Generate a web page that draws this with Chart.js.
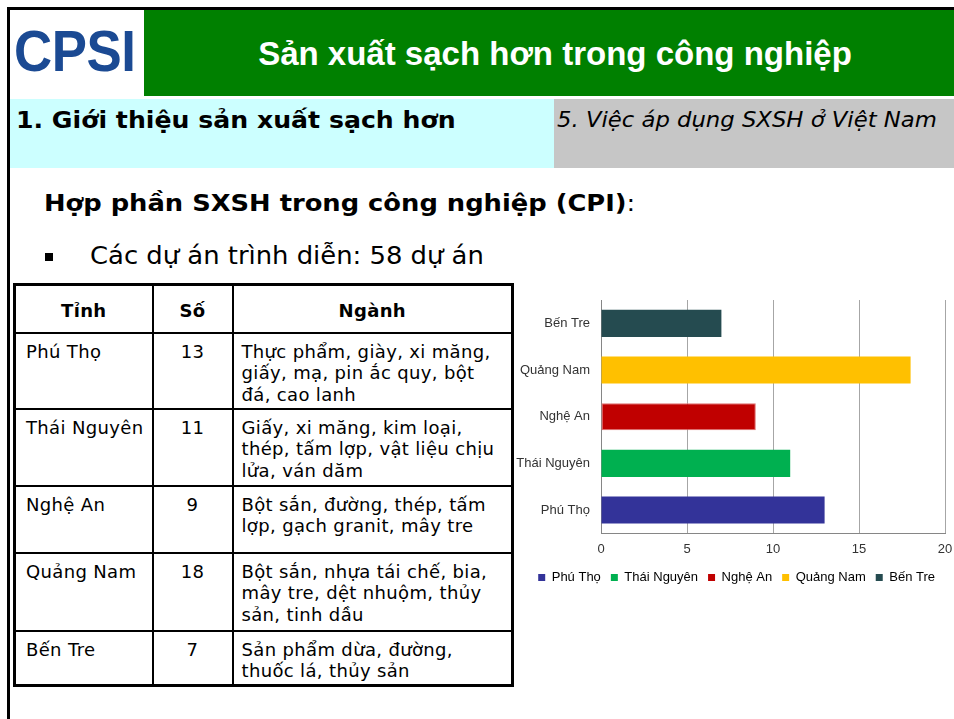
<!DOCTYPE html>
<html lang="vi">
<head>
<meta charset="utf-8">
<script src="https://cdn.jsdelivr.net/npm/chart.js@4/dist/chart.umd.min.js"></script>
<style>
  html,body{margin:0;padding:0;background:#fff;}
  body{width:954px;height:719px;position:relative;overflow:hidden;font-family:"DejaVu Sans",Verdana,sans-serif;}
  .abs{position:absolute;}
  #topline{left:7px;top:7px;width:947px;height:3px;background:#000;}
  #leftline{left:7px;top:7px;width:3px;height:712px;background:#000;}
  #logo{left:10px;top:10px;width:134px;height:86px;background:#fff;}
  #logotext{left:14px;top:22px;font-family:"Liberation Sans",Arial,sans-serif;font-weight:bold;font-size:58px;line-height:1;color:#1B4A93;transform:scaleX(0.91);transform-origin:0 0;letter-spacing:-0.5px;}
  #green{left:144px;top:10px;width:810px;height:86px;background:#008000;}
  #title{left:144px;width:810px;top:37px;text-align:center;color:#fff;font-family:"Liberation Sans",Arial,sans-serif;font-weight:bold;font-size:33px;line-height:1;padding-left:12px;box-sizing:border-box;}
  #cyan{left:10px;top:99px;width:544px;height:69px;background:#CCFFFF;}
  #gray{left:554px;top:99px;width:400px;height:69px;background:#C6C6C6;}
  .sx{transform-origin:0 0;white-space:nowrap;}
  #sec1{left:16px;top:109px;font-weight:bold;font-size:23px;line-height:1;color:#000;transform:scaleX(1.095);}
  #sec5{left:557px;top:109px;font-style:italic;font-size:22px;line-height:1;color:#000;transform:scaleX(1.033);}
  #heading{left:44px;top:192px;font-weight:bold;font-size:23px;line-height:1;color:#000;transform:scaleX(1.12);}
  #heading span{font-weight:normal;}
  #bullet{left:45px;top:253px;width:8px;height:8px;background:#000;}
  #bullettext{left:90px;top:244px;font-size:24px;line-height:1;color:#000;transform:scaleX(1.077);}
  #tbl{left:13px;top:283px;border-collapse:collapse;border:3px solid #000;table-layout:fixed;}
  #tbl td,#tbl th{border:2px solid #000;font-size:18px;line-height:21.6px;color:#000;padding:0;vertical-align:top;white-space:nowrap;letter-spacing:0.35px;}
  #tbl th{font-weight:bold;text-align:center;vertical-align:middle;padding-top:4px;}
  #tbl td.c1{padding:7px 0 0 10px;}
  #tbl td.c2{padding:7px 0 0 0;text-align:center;}
  #tbl td.c3{padding:7px 0 0 8px;}
  #chartwrap{left:510px;top:290px;width:444px;height:304px;}
</style>
</head>
<body>
<div class="abs" id="topline"></div>
<div class="abs" id="leftline"></div>
<div class="abs" id="logo"></div>
<div class="abs" id="logotext">CPSI</div>
<div class="abs" id="green"></div>
<div class="abs" id="title">Sản xuất sạch hơn trong công nghiệp</div>
<div class="abs" id="cyan"></div>
<div class="abs" id="gray"></div>
<div class="abs sx" id="sec1">1. Giới thiệu sản xuất sạch hơn</div>
<div class="abs sx" id="sec5">5. Việc áp dụng SXSH ở Việt Nam</div>
<div class="abs sx" id="heading">Hợp phần SXSH trong công nghiệp (CPI)<span>:</span></div>
<div class="abs" id="bullet"></div>
<div class="abs sx" id="bullettext">Các dự án trình diễn: 58 dự án</div>
<table class="abs" id="tbl"></table>
<div class="abs" id="chartwrap"><canvas id="c" width="444" height="304"></canvas></div>
<script>
// ---- data ----
const provinces = ['Phú Thọ', 'Thái Nguyên', 'Nghệ An', 'Quảng Nam', 'Bến Tre'];
const projectCounts = [13, 11, 9, 18, 7];
const barColors = ['#333399', '#00B050', '#C00000', '#FFC000', '#254B50'];
const xTickValues = [0, 5, 10, 15, 20];
const tableHeaders = ['Tỉnh', 'Số', 'Ngành'];
const sectorLines = [
  ['Thực phẩm, giày, xi măng,', 'giấy, mạ, pin ắc quy, bột', 'đá, cao lanh'],
  ['Giấy, xi măng, kim loại,', 'thép, tấm lợp, vật liệu chịu', 'lửa, ván dăm'],
  ['Bột sắn, đường, thép, tấm', 'lợp, gạch granit, mây tre'],
  ['Bột sắn, nhựa tái chế, bia,', 'mây tre, dệt nhuộm, thủy', 'sản, tinh dầu'],
  ['Sản phẩm dừa, đường,', 'thuốc lá, thủy sản']
];

// ---- table ----
const colWidths = [138, 80, 280];
const rowHeights = [48, 76, 77, 67, 78, 55];
const tbl = document.getElementById('tbl');
const cg = document.createElement('colgroup');
colWidths.forEach(w => { const c = document.createElement('col'); c.style.width = w + 'px'; cg.appendChild(c); });
tbl.appendChild(cg);
const hr = document.createElement('tr');
hr.style.height = rowHeights[0] + 'px';
tableHeaders.forEach(h => { const th = document.createElement('th'); th.textContent = h; hr.appendChild(th); });
tbl.appendChild(hr);
provinces.forEach((p, i) => {
  const tr = document.createElement('tr');
  tr.style.height = rowHeights[i + 1] + 'px';
  const a = document.createElement('td'); a.className = 'c1'; a.textContent = p;
  const b = document.createElement('td'); b.className = 'c2'; b.textContent = projectCounts[i];
  const c = document.createElement('td'); c.className = 'c3';
  sectorLines[i].forEach((l, k) => { if (k) c.appendChild(document.createElement('br')); c.appendChild(document.createTextNode(l)); });
  tr.appendChild(a); tr.appendChild(b); tr.appendChild(c);
  tbl.appendChild(tr);
});

// ---- chart ----
const FONT = '"Liberation Sans", Arial, sans-serif';
new Chart(document.getElementById('c'), {
  type: 'bar',
  data: {
    labels: provinces,
    datasets: [{
      data: projectCounts,
      backgroundColor: barColors,
      borderColor: ['#333399', '#00B050', '#E07070', '#FFC000', '#254B50'],
      borderWidth: [0, 0, 1, 0, 0],
      borderSkipped: false,
      barPercentage: 0.58,
      categoryPercentage: 1
    }]
  },
  options: {
    indexAxis: 'y',
    responsive: false,
    animation: false,
    devicePixelRatio: 1,
    layout: { padding: { top: 10, right: 9, left: 0, bottom: 0 } },
    plugins: {
      tooltip: { enabled: false },
      legend: {
        position: 'bottom',
        align: 'end',
        labels: {
          boxWidth: 7,
          boxHeight: 7,
          padding: 10,
          color: '#333333',
          font: { family: FONT, size: 13 },
          generateLabels: () => provinces.map((p, i) => ({
            text: p, fillStyle: barColors[i], strokeStyle: barColors[i], lineWidth: 0, hidden: false, index: i
          }))
        }
      }
    },
    scales: {
      x: {
        min: 0, max: 20,
        afterBuildTicks: s => { s.ticks = xTickValues.map(v => ({ value: v })); },
        afterFit: s => { s.height = s.height - 4; s.paddingRight = 0; s.paddingLeft = 0; },
        ticks: { color: '#333333', font: { family: FONT, size: 13 }, padding: 8 },
        grid: { color: '#A6A6A6', drawTicks: false },
        border: { color: '#868686', width: 1 }
      },
      y: {
        reverse: true,
        afterFit: s => { s.width = 91; s.paddingTop = 0; s.paddingBottom = 0; },
        ticks: { color: '#333333', font: { family: FONT, size: 13 }, padding: 11 },
        grid: { display: false, drawTicks: false },
        border: { color: '#868686', width: 1 }
      }
    }
  }
});
</script>
</body>
</html>
